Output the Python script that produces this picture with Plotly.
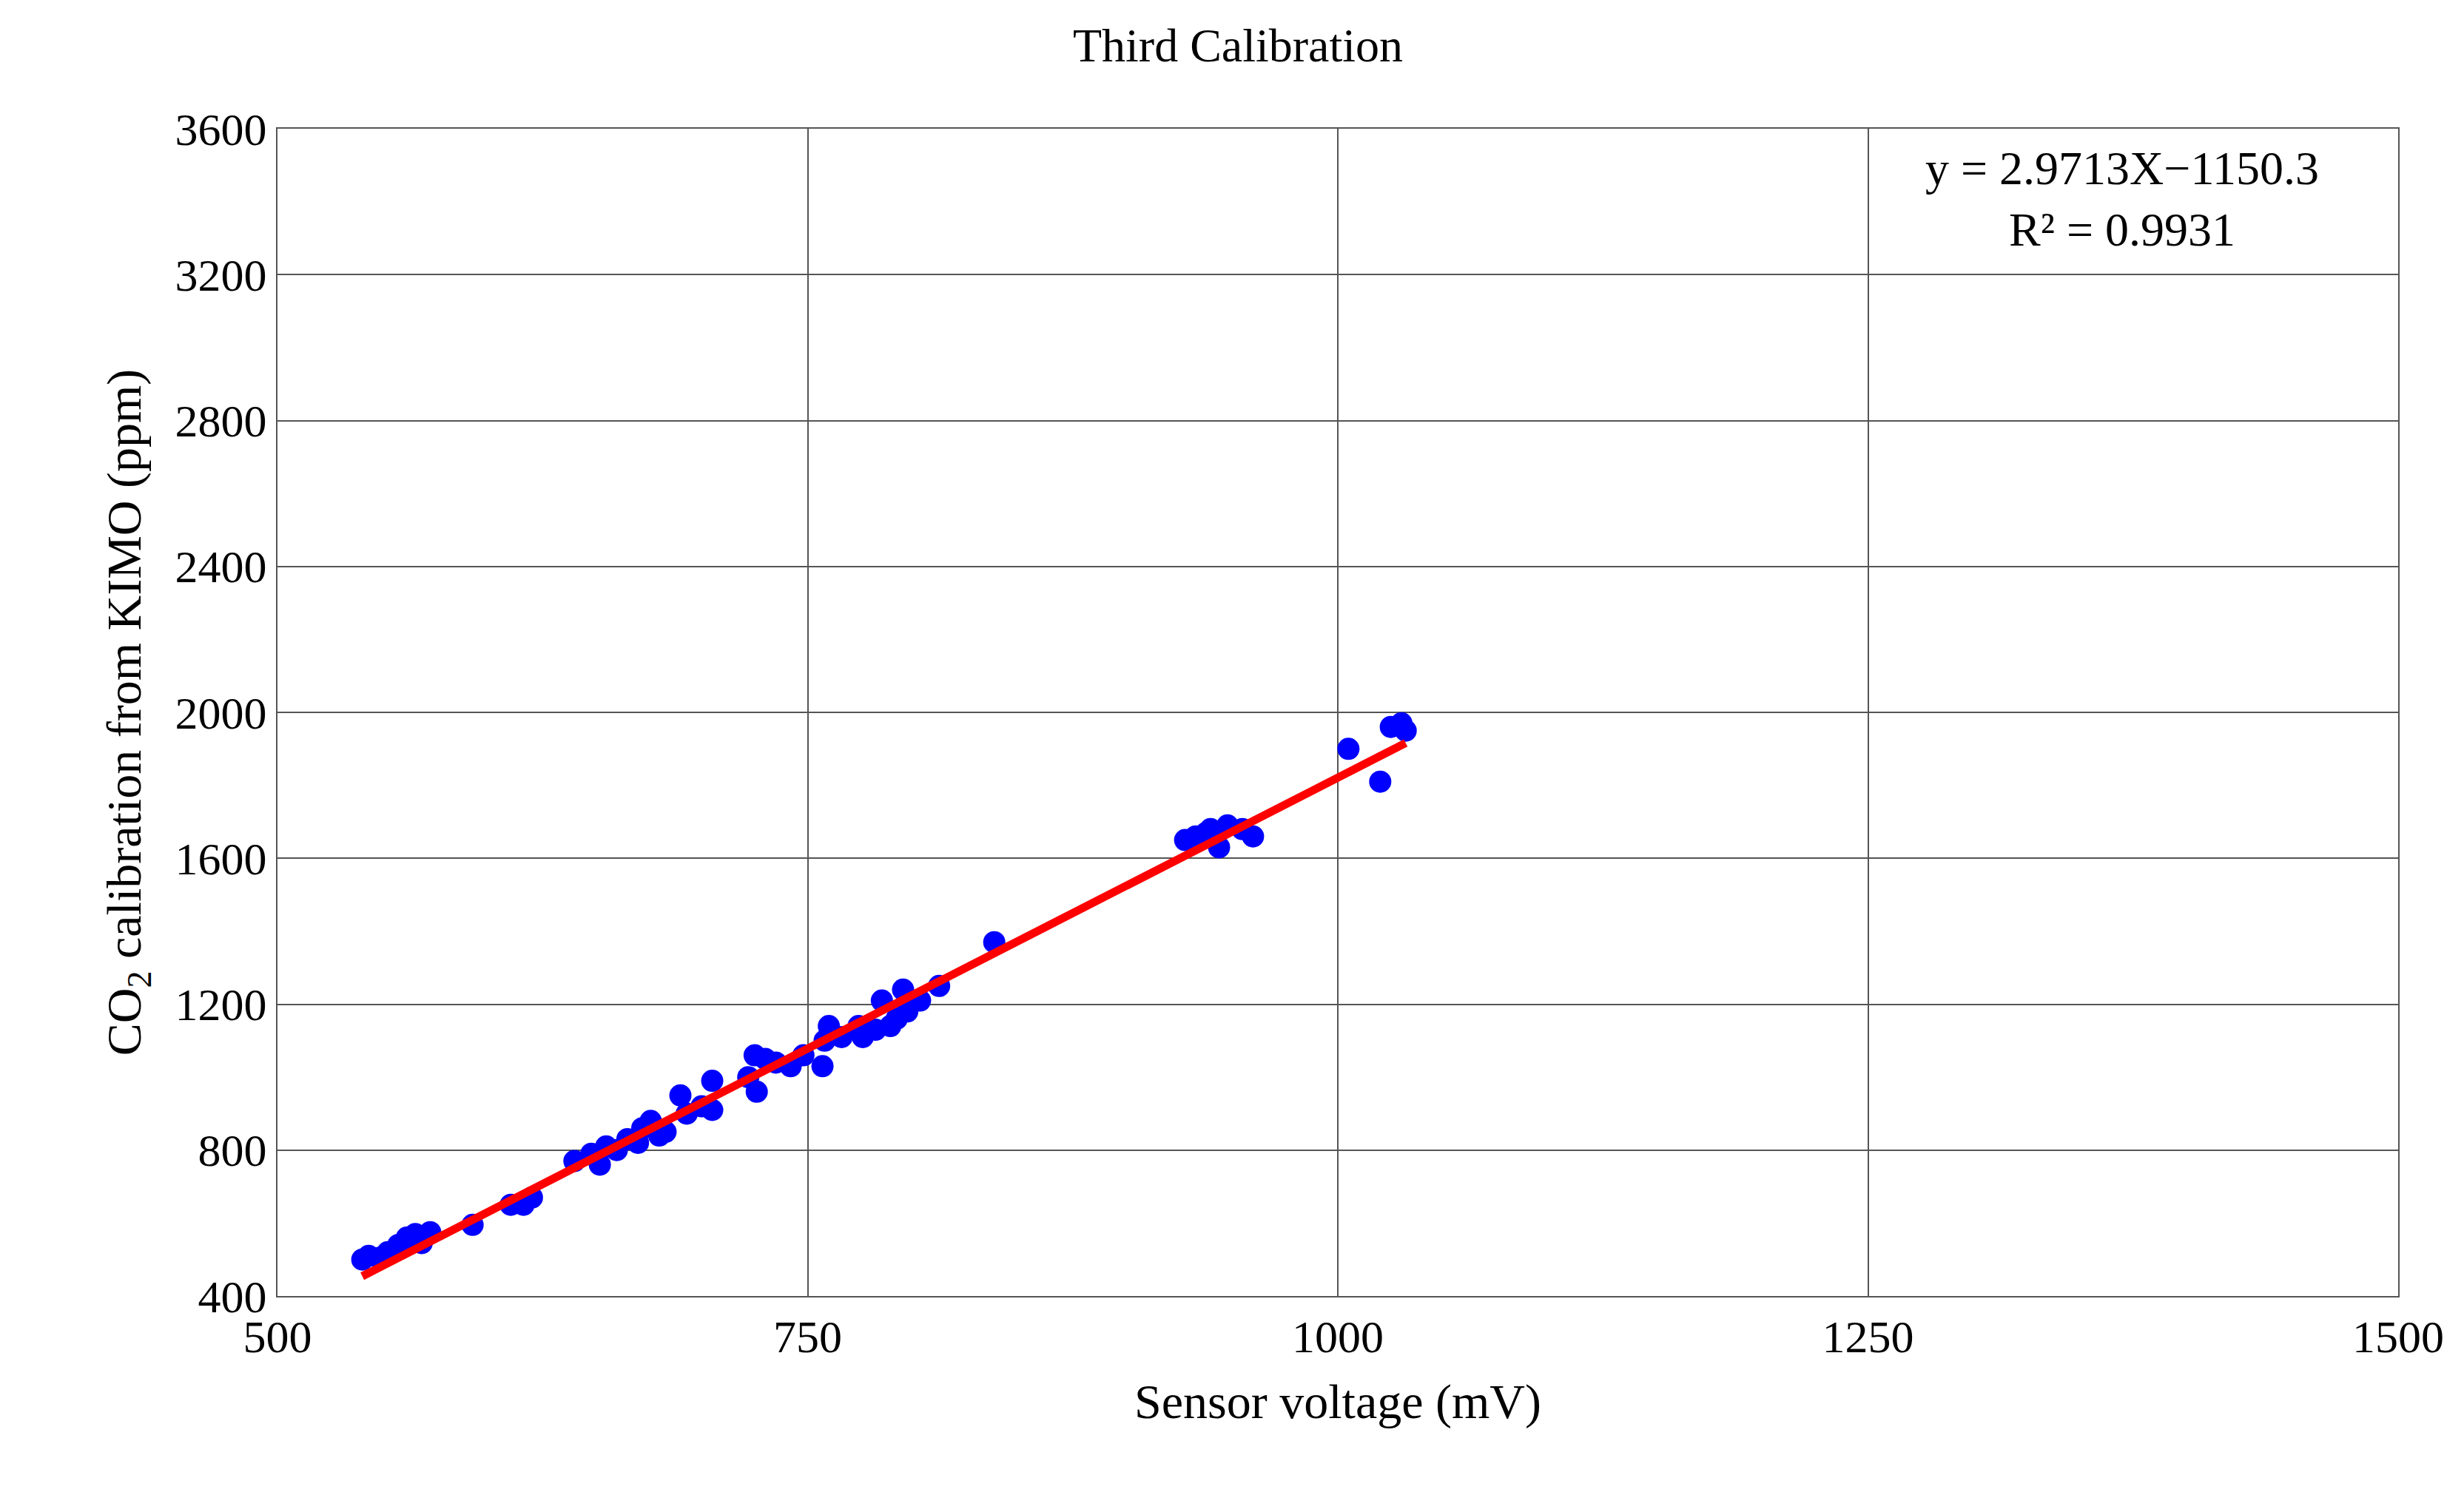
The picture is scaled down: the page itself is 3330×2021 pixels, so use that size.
import plotly.graph_objects as go

# --- data ---
voltage = [540, 543, 548, 552, 557, 561, 565, 568, 572, 592, 610, 616, 620, 640, 648, 652,
           655, 660, 665, 670, 672, 676, 680, 683, 690, 693, 700, 705, 705, 722, 725, 726,
           730, 735, 742, 748, 757, 758, 760, 766, 774, 776, 782, 785, 789, 792, 795, 797,
           803, 812, 838, 928, 933, 938, 940, 944, 948, 955, 960, 1005, 1020, 1025, 1030, 1032]
co2 = [500, 510, 505, 520, 540, 560, 570, 545, 575, 595, 650, 650, 670, 770, 790, 760,
       810, 800, 830, 820, 860, 880, 840, 850, 950, 900, 920, 990, 910, 1000, 1060, 960,
       1050, 1040, 1030, 1060, 1030, 1100, 1140, 1110, 1140, 1110, 1130, 1210, 1140, 1160, 1240, 1180,
       1210, 1250, 1370, 1650, 1660, 1670, 1680, 1630, 1690, 1680, 1660, 1900, 1810, 1960, 1970, 1950]
slope = 2.9713
intercept = -1150.3
r2 = 0.9931
x_ticks = [500, 750, 1000, 1250, 1500]
y_ticks = [400, 800, 1200, 1600, 2000, 2400, 2800, 3200, 3600]

FONT = "Liberation Serif"

fit_x = [min(voltage), max(voltage)]
fit_y = [slope * v + intercept for v in fit_x]

fig = go.Figure()
fig.add_trace(go.Scatter(x=voltage, y=co2, mode="markers",
                         marker=dict(color="#0000ff", size=30), showlegend=False))
fig.add_trace(go.Scatter(x=fit_x, y=fit_y, mode="lines",
                         line=dict(color="#ff0000", width=11), showlegend=False))

fig.add_annotation(x=0.87, y=0.99, xref="paper", yref="paper", showarrow=False,
                   xanchor="center", yanchor="top",
                   text=f"y = {slope}X\u2212{abs(intercept)}<br>R\u00b2 = {r2}",
                   font=dict(family=FONT, size=64, color="black"), align="center")

axis_common = dict(showgrid=True, gridcolor="#555555", gridwidth=2, showline=True,
                   linecolor="#555555", linewidth=2, mirror=True, ticks="",
                   zeroline=False, tickfont=dict(family=FONT, size=62, color="black"))

fig.update_layout(
    width=3330, height=2021,
    paper_bgcolor="white", plot_bgcolor="white",
    margin=dict(l=367, r=97, t=166, b=277),
    title=dict(text="Third Calibration", x=0.5, xanchor="center", y=0.985, yanchor="top",
               font=dict(family=FONT, size=64, color="black")),
    xaxis=dict(range=[500, 1500], tickvals=x_ticks,
               title=dict(text="Sensor voltage (mV)", font=dict(family=FONT, size=66, color="black"),
                          standoff=30),
               **axis_common),
    yaxis=dict(range=[400, 3600], tickvals=y_ticks,
               title=dict(text="CO<sub>2</sub> calibration from KIMO (ppm)",
                          font=dict(family=FONT, size=66, color="black"), standoff=24),
               **axis_common),
)

fig.write_html("out.html")
